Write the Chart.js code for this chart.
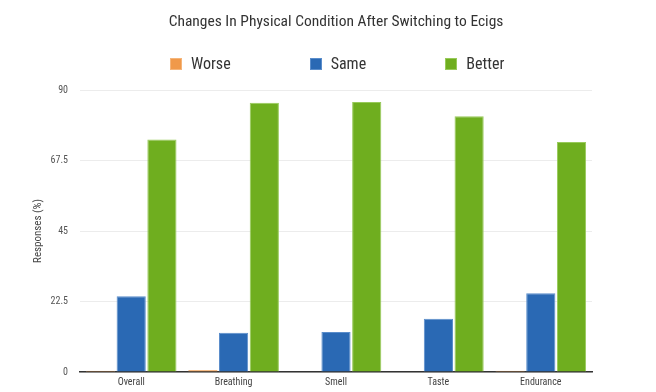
<!DOCTYPE html>
<html>
<head>
<meta charset="utf-8">
<script src="https://cdn.jsdelivr.net/npm/chart.js@4"></script>
<style>
  html, body { margin: 0; padding: 0; background: #fff; }
  #wrap { position: relative; width: 656px; height: 392px; }
  .narrow { font-family: 'Liberation Sans Narrow', 'Roboto Condensed', 'DejaVu Sans Condensed', sans-serif; color: #333; }
  #title { position: absolute; top: 11px; left: 0; width: 672px; text-align: center; font-size: 15.5px; line-height: 20px; }
  #legend { position: absolute; top: 54px; left: 170px; display: flex; gap: 79px; font-size: 16px; line-height: 20px; }
  .item { display: flex; align-items: center; }
  .box { width: 12px; height: 12px; margin-right: 9px; box-sizing: border-box; border: 1px solid; }
</style>
</head>
<body>
<div id="wrap">
  <canvas id="chart"></canvas>
  <div id="title" class="narrow">Changes In Physical Condition After Switching to Ecigs</div>
  <div id="legend" class="narrow"></div>
</div>
<script>
// ── Data ──────────────────────────────────────────────────────────────────────
const categories = ['Overall', 'Breathing', 'Smell', 'Taste', 'Endurance'];
const worse  = [0.4, 0.6, 0, 0, 0.4];
const same   = [24.2, 12.5, 12.8, 17.0, 25.1];
const better = [74.2, 85.9, 86.2, 81.6, 73.4];
const yTicks = [0, 22.5, 45, 67.5, 90];

// ── Style ─────────────────────────────────────────────────────────────────────
const FONT = "'Liberation Sans Narrow', 'Roboto Condensed', 'DejaVu Sans Condensed', sans-serif";

const mkSet = (label, data, fill, edge) => ({
  label, data,
  backgroundColor: fill,
  borderColor: edge,
  borderWidth: 1,
  categoryPercentage: 0.9,
  barPercentage: 0.95,
});

const chart = new Chart(document.getElementById('chart'), {
  type: 'bar',
  data: {
    labels: categories,
    datasets: [
      mkSet('Worse',  worse,  '#F0994A', '#F5B57A'),
      mkSet('Same',   same,   '#2A69B4', '#5A8DCB'),
      mkSet('Better', better, '#6FAE1F', '#98CA5A'),
    ]
  },
  options: {
    responsive: true,
    maintainAspectRatio: false,
    animation: false,
    layout: { padding: { left: 30, right: 64, top: 90, bottom: 0 } },
    plugins: {
      legend: { display: false },
      tooltip: { enabled: false }
    },
    scales: {
      x: {
        grid: { display: false, drawTicks: false },
        border: { color: '#333', width: 1.5 },
        ticks: { color: '#444', font: { family: FONT, size: 10 }, padding: 4 }
      },
      y: {
        min: 0, max: 90,
        afterBuildTicks: axis => { axis.ticks = yTicks.map(v => ({ value: v })); },
        afterFit: axis => { axis.width = 50; },
        grid: { color: '#ececec', drawTicks: false },
        border: { display: false },
        ticks: { color: '#555', font: { family: FONT, size: 10 }, padding: 12 },
        title: {
          display: true, text: 'Responses (%)',
          color: '#444', font: { family: FONT, size: 11 }, padding: 2
        }
      }
    }
  }
});

// ── HTML legend from the datasets ─────────────────────────────────────────────
const legend = document.getElementById('legend');
chart.data.datasets.forEach(ds => {
  const item = document.createElement('div');
  item.className = 'item';
  item.innerHTML = `<span class="box" style="background:${ds.backgroundColor};border-color:${ds.borderColor}"></span>${ds.label}`;
  legend.appendChild(item);
});
</script>
</body>
</html>
